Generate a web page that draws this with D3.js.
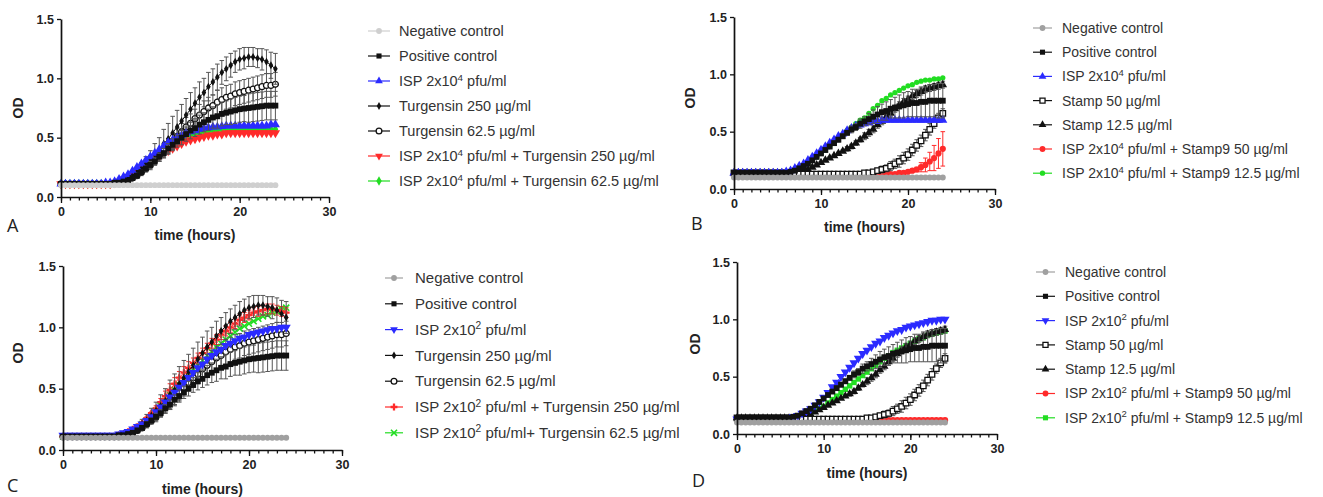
<!DOCTYPE html>
<html>
<head>
<meta charset="utf-8">
<script src="https://cdn.jsdelivr.net/npm/d3@7"></script>
<style>
  body { margin: 0; background: #fff; }
  svg { display: block; }
</style>
</head>
<body>
<svg id="fig" width="1323" height="497"></svg>
<script>
// ---- sampling times (hours) ----
const hours = [0,0.5,1,1.5,2,2.5,3,3.5,4,4.5,5,5.5,
  6,6.5,7,7.5,8,8.5,9,9.5,10,10.5,
  11,11.5,12,12.5,13,13.5,14,14.5,15,15.5,
  16,16.5,17,17.5,18,18.5,19,19.5,20,20.5,
  21,21.5,22,22.5,23,23.5,24];

const xMajor = [0, 10, 20, 30];
const xMinor = [0,1,2,3,4,5,6,7,8,9,10,11,12,13,14,15,16,17,18,19,20,21,22,23,24,25,26,27,28,29,30];
const yMajor = [0, 0.5, 1.0, 1.5];

// ---- Turgensin experiment (panels A and C) ----
const negT = [0.10,0.10,0.10,0.10,0.10,0.10,0.10,0.10,0.10,0.10,0.10,0.10,
  0.10,0.10,0.10,0.10,0.10,0.10,0.10,0.10,0.10,0.10,
  0.10,0.10,0.10,0.10,0.10,0.10,0.10,0.10,0.10,0.10,
  0.10,0.10,0.10,0.10,0.10,0.10,0.10,0.10,0.10,0.10,
  0.10,0.10,0.10,0.10,0.10,0.10,0.10];
const posT = [0.11,0.11,0.11,0.11,0.11,0.11,0.11,0.11,0.11,0.11,0.11,0.11,
  0.12,0.12,0.13,0.14,0.16,0.18,0.21,0.24,0.27,0.30,
  0.34,0.37,0.41,0.44,0.47,0.50,0.53,0.56,0.58,0.61,
  0.63,0.65,0.67,0.68,0.70,0.71,0.72,0.73,0.74,0.745,
  0.75,0.755,0.76,0.765,0.77,0.77,0.77];
const posTsd = [0,0,0,0,0,0,0,0,0,0,0,0,
  0,0,0.01,0.01,0.01,0.02,0.02,0.02,0.03,0.03,
  0.03,0.04,0.04,0.05,0.05,0.06,0.06,0.07,0.07,0.08,
  0.08,0.09,0.09,0.10,0.10,0.10,0.11,0.11,0.11,0.11,
  0.12,0.12,0.12,0.12,0.12,0.12,0.12];
const turg250 = [0.11,0.11,0.11,0.11,0.11,0.11,0.11,0.11,0.11,0.11,0.11,0.11,
  0.12,0.13,0.14,0.16,0.18,0.21,0.24,0.28,0.32,0.36,
  0.40,0.45,0.49,0.54,0.59,0.64,0.69,0.74,0.79,0.84,
  0.88,0.93,0.97,1.01,1.05,1.08,1.11,1.14,1.16,1.17,
  1.18,1.18,1.17,1.16,1.14,1.11,1.08];
const turg250sd = [0,0,0,0,0,0,0,0,0,0,0,0,
  0,0,0.01,0.02,0.03,0.04,0.05,0.06,0.07,0.09,
  0.10,0.12,0.13,0.14,0.14,0.14,0.14,0.14,0.13,0.13,
  0.12,0.12,0.11,0.11,0.10,0.10,0.10,0.09,0.09,0.09,
  0.08,0.08,0.08,0.09,0.10,0.11,0.13];
const turg62 = [0.11,0.11,0.11,0.11,0.11,0.11,0.11,0.11,0.11,0.11,0.11,0.11,
  0.11,0.12,0.13,0.14,0.16,0.18,0.21,0.24,0.27,0.31,
  0.35,0.39,0.43,0.47,0.51,0.55,0.59,0.62,0.66,0.69,
  0.72,0.75,0.77,0.80,0.82,0.84,0.85,0.87,0.88,0.89,
  0.90,0.91,0.92,0.93,0.94,0.94,0.95];
const turg62sd = [0,0,0,0,0,0,0,0,0,0,0,0,
  0,0,0.01,0.01,0.02,0.02,0.03,0.03,0.04,0.04,
  0.05,0.05,0.06,0.06,0.07,0.07,0.08,0.08,0.08,0.09,
  0.09,0.09,0.09,0.10,0.10,0.10,0.10,0.10,0.10,0.10,
  0.10,0.10,0.10,0.10,0.10,0.10,0.10];
const ispHighA = [0.11,0.11,0.11,0.11,0.11,0.11,0.11,0.11,0.11,0.11,0.12,0.12,
  0.13,0.15,0.17,0.19,0.22,0.25,0.28,0.31,0.34,0.37,
  0.40,0.43,0.46,0.48,0.50,0.52,0.54,0.55,0.56,0.57,
  0.58,0.585,0.59,0.59,0.595,0.60,0.60,0.60,0.60,0.60,
  0.60,0.60,0.60,0.60,0.60,0.61,0.61];
const ispT250A = [0.11,0.11,0.11,0.11,0.11,0.11,0.11,0.11,0.11,0.11,0.11,0.11,
  0.12,0.13,0.15,0.17,0.19,0.21,0.24,0.26,0.29,0.32,
  0.34,0.37,0.39,0.41,0.43,0.45,0.47,0.48,0.49,0.50,
  0.51,0.52,0.52,0.53,0.53,0.54,0.54,0.54,0.54,0.54,
  0.54,0.54,0.54,0.54,0.54,0.54,0.54];
const ispT62A = [0.11,0.11,0.11,0.11,0.11,0.11,0.11,0.11,0.11,0.11,0.11,0.11,
  0.12,0.14,0.16,0.18,0.20,0.23,0.26,0.29,0.32,0.35,
  0.38,0.40,0.43,0.45,0.47,0.49,0.50,0.52,0.53,0.54,
  0.55,0.55,0.56,0.56,0.57,0.57,0.57,0.57,0.57,0.57,
  0.57,0.57,0.57,0.57,0.57,0.57,0.57];
const ispLowC = [0.12,0.12,0.12,0.12,0.12,0.12,0.12,0.12,0.12,0.12,0.12,0.12,
  0.13,0.14,0.15,0.17,0.19,0.21,0.24,0.27,0.31,0.35,
  0.39,0.43,0.47,0.51,0.55,0.59,0.63,0.67,0.70,0.74,
  0.77,0.80,0.82,0.85,0.87,0.89,0.91,0.92,0.94,0.95,
  0.96,0.97,0.98,0.99,0.99,1.00,1.00];
const ispT250C = [0.11,0.11,0.11,0.11,0.11,0.11,0.11,0.11,0.11,0.11,0.11,0.11,
  0.12,0.13,0.15,0.17,0.19,0.22,0.26,0.30,0.34,0.39,
  0.44,0.49,0.54,0.59,0.63,0.67,0.71,0.75,0.79,0.83,
  0.87,0.90,0.94,0.97,1.00,1.03,1.06,1.08,1.10,1.12,
  1.13,1.14,1.15,1.15,1.14,1.13,1.12];
const ispT250Csd = [0,0,0,0,0,0,0,0,0,0,0,0,
  0,0,0.01,0.01,0.01,0.01,0.01,0.01,0.02,0.03,
  0.04,0.05,0.05,0.05,0.05,0.05,0.04,0.04,0.04,0.04,
  0.04,0.04,0.04,0.04,0.04,0.04,0.04,0.04,0.04,0.04,
  0.04,0.04,0.04,0.04,0.04,0.04,0.04];
const ispT62C = [0.11,0.11,0.11,0.11,0.11,0.11,0.11,0.11,0.11,0.11,0.11,0.11,
  0.12,0.13,0.14,0.16,0.18,0.21,0.24,0.28,0.32,0.36,
  0.40,0.45,0.49,0.53,0.57,0.61,0.65,0.69,0.73,0.77,
  0.80,0.84,0.87,0.90,0.93,0.96,0.99,1.01,1.03,1.05,
  1.07,1.09,1.10,1.12,1.13,1.15,1.16];

// ---- Stamp experiment (panels B and D) ----
const negS = [0.10,0.10,0.10,0.10,0.10,0.10,0.10,0.10,0.10,0.10,0.10,0.10,
  0.10,0.10,0.10,0.10,0.10,0.10,0.10,0.10,0.10,0.10,
  0.10,0.10,0.10,0.10,0.10,0.10,0.10,0.10,0.10,0.10,
  0.10,0.10,0.10,0.10,0.10,0.10,0.10,0.10,0.10,0.10,
  0.10,0.10,0.10,0.10,0.10,0.10,0.10];
const posS = [0.14,0.14,0.14,0.14,0.14,0.14,0.14,0.14,0.14,0.14,0.14,0.14,
  0.14,0.15,0.16,0.18,0.20,0.22,0.25,0.28,0.31,0.34,
  0.37,0.40,0.43,0.46,0.49,0.52,0.54,0.57,0.59,0.61,
  0.63,0.65,0.67,0.68,0.70,0.71,0.72,0.73,0.74,0.75,
  0.75,0.76,0.76,0.77,0.77,0.77,0.77];
const posSsd = [0,0,0,0,0,0,0,0,0,0,0,0,
  0,0,0.01,0.01,0.01,0.01,0.01,0.01,0.01,0.01,
  0.01,0.02,0.02,0.02,0.02,0.03,0.03,0.04,0.04,0.05,
  0.06,0.07,0.07,0.08,0.08,0.09,0.10,0.11,0.11,0.12,
  0.12,0.13,0.13,0.14,0.14,0.15,0.15];
const stamp50 = [0.14,0.14,0.14,0.14,0.14,0.14,0.14,0.14,0.14,0.14,0.14,0.14,
  0.14,0.13,0.13,0.13,0.13,0.13,0.13,0.13,0.13,0.13,
  0.13,0.13,0.13,0.13,0.13,0.13,0.13,0.13,0.14,0.14,
  0.15,0.16,0.17,0.18,0.20,0.22,0.24,0.27,0.30,0.34,
  0.38,0.42,0.47,0.52,0.57,0.62,0.66];
const stamp50sd = [0,0,0,0,0,0,0,0,0,0,0,0,
  0,0,0,0,0,0,0,0,0,0,
  0,0,0,0,0,0,0,0,0.01,0.01,
  0.02,0.02,0.03,0.03,0.04,0.04,0.05,0.05,0.05,0.05,
  0.05,0.05,0.05,0.05,0.04,0.04,0.04];
const stamp12 = [0.14,0.14,0.14,0.14,0.14,0.14,0.14,0.14,0.14,0.14,0.14,0.14,
  0.14,0.14,0.14,0.15,0.16,0.17,0.19,0.21,0.23,0.25,
  0.27,0.29,0.31,0.33,0.35,0.37,0.40,0.43,0.46,0.49,
  0.52,0.56,0.59,0.63,0.66,0.70,0.73,0.76,0.78,0.81,
  0.83,0.85,0.87,0.88,0.89,0.90,0.91];
const stamp12sd = [0,0,0,0,0,0,0,0,0,0,0,0,
  0,0,0.01,0.01,0.01,0.01,0.01,0.01,0.01,0.01,
  0.01,0.01,0.01,0.01,0.02,0.02,0.02,0.02,0.03,0.03,
  0.03,0.03,0.03,0.03,0.03,0.03,0.03,0.03,0.03,0.03,
  0.03,0.03,0.03,0.03,0.03,0.03,0.03];
const ispHighB = [0.14,0.14,0.14,0.14,0.14,0.14,0.14,0.14,0.14,0.14,0.14,0.14,
  0.15,0.16,0.18,0.20,0.22,0.25,0.28,0.31,0.34,0.37,
  0.40,0.43,0.46,0.48,0.51,0.53,0.55,0.56,0.57,0.58,
  0.59,0.59,0.60,0.60,0.60,0.60,0.60,0.60,0.60,0.60,
  0.60,0.60,0.60,0.60,0.60,0.60,0.60];
const ispS50B = [0.14,0.14,0.14,0.14,0.14,0.14,0.14,0.14,0.14,0.14,0.14,0.14,
  0.14,0.14,0.14,0.13,0.13,0.13,0.13,0.13,0.13,0.13,
  0.13,0.13,0.13,0.13,0.13,0.13,0.13,0.13,0.13,0.13,
  0.13,0.13,0.13,0.13,0.13,0.13,0.14,0.14,0.15,0.16,
  0.17,0.19,0.21,0.24,0.27,0.31,0.35];
const ispS50Bsd = [0,0,0,0,0,0,0,0,0,0,0,0,
  0,0,0,0,0,0,0,0,0,0,
  0,0,0,0,0,0,0,0,0,0,
  0,0,0,0,0,0,0,0,0.01,0.01,
  0.02,0.04,0.06,0.08,0.11,0.13,0.15];
const ispS12B = [0.14,0.14,0.14,0.14,0.14,0.14,0.14,0.14,0.14,0.14,0.14,0.14,
  0.14,0.15,0.16,0.18,0.20,0.22,0.25,0.28,0.31,0.34,
  0.37,0.40,0.44,0.47,0.51,0.54,0.57,0.60,0.62,0.66,
  0.70,0.73,0.77,0.79,0.82,0.84,0.86,0.88,0.90,0.91,
  0.93,0.94,0.95,0.95,0.96,0.96,0.97];
const ispLowD = [0.13,0.13,0.13,0.13,0.13,0.13,0.13,0.13,0.13,0.13,0.13,0.13,
  0.14,0.15,0.16,0.18,0.20,0.22,0.25,0.28,0.32,0.36,
  0.41,0.45,0.50,0.54,0.58,0.62,0.66,0.70,0.73,0.76,
  0.79,0.81,0.84,0.86,0.88,0.90,0.91,0.93,0.94,0.95,
  0.96,0.97,0.98,0.99,0.99,1.00,1.00];
const ispS50D = [0.13,0.13,0.13,0.13,0.13,0.13,0.13,0.13,0.13,0.13,0.13,0.13,
  0.13,0.13,0.13,0.13,0.13,0.13,0.13,0.13,0.13,0.13,
  0.13,0.13,0.12,0.12,0.12,0.12,0.12,0.12,0.12,0.12,
  0.12,0.12,0.12,0.12,0.12,0.12,0.12,0.12,0.12,0.12,
  0.12,0.12,0.12,0.12,0.12,0.12,0.12];
const ispS12D = [0.13,0.13,0.13,0.13,0.13,0.13,0.13,0.13,0.13,0.13,0.13,0.13,
  0.13,0.14,0.14,0.15,0.16,0.18,0.20,0.22,0.24,0.27,
  0.30,0.33,0.36,0.39,0.42,0.45,0.48,0.51,0.54,0.57,
  0.60,0.63,0.66,0.68,0.71,0.73,0.75,0.77,0.79,0.81,
  0.83,0.84,0.86,0.87,0.88,0.89,0.90];

// ---- legend texts ("^n" marks a superscript digit) ----
const labelsA = ["Negative control","Positive control","ISP 2x10^4 pfu/ml","Turgensin 250 µg/ml","Turgensin 62.5 µg/ml","ISP 2x10^4 pfu/ml + Turgensin 250 µg/ml","ISP 2x10^4 pfu/ml + Turgensin 62.5 µg/ml"];
const labelsB = ["Negative control","Positive control","ISP 2x10^4 pfu/ml","Stamp 50 µg/ml","Stamp 12.5 µg/ml","ISP 2x10^4 pfu/ml + Stamp9 50 µg/ml","ISP 2x10^4 pfu/ml + Stamp9 12.5 µg/ml"];
const labelsC = ["Negative control","Positive control","ISP 2x10^2 pfu/ml","Turgensin 250 µg/ml","Turgensin 62.5 µg/ml","ISP 2x10^2 pfu/ml + Turgensin 250 µg/ml","ISP 2x10^2 pfu/ml+ Turgensin 62.5 µg/ml"];
const labelsD = ["Negative control","Positive control","ISP 2x10^2 pfu/ml","Stamp 50 µg/ml","Stamp 12.5 µg/ml","ISP 2x10^2 pfu/ml + Stamp9 50 µg/ml","ISP 2x10^2 pfu/ml + Stamp9 12.5 µg/ml"];

const BLUE = "#2b2bff", RED = "#ff2a2a", GREEN = "#22dd22", BLACK = "#111";
const BAR_DARK = "#555";

const panels = [
  { letter: "A", xr: [61, 329], yr: [197, 19], od: [18, 108], titleY: 240, let: [7, 232],
    legend: { x0: 368, x1: 390, tx: 399, y: 31, dy: 25, fs: 14.5 },
    series: [
      { label: labelsA[0], v: negT, color: "#cfcfcf", shape: "circle", size: 28 },
      { label: labelsA[1], v: posT, sd: posTsd, bar: BAR_DARK, color: BLACK, shape: "square", size: 34 },
      { label: labelsA[2], v: ispHighA, color: BLUE, shape: "triangle", size: 36 },
      { label: labelsA[3], v: turg250, sd: turg250sd, bar: BAR_DARK, color: BLACK, shape: "diamond", size: 18 },
      { label: labelsA[4], v: turg62, sd: turg62sd, bar: BAR_DARK, color: BLACK, shape: "circle", open: true, size: 28 },
      { label: labelsA[5], v: ispT250A, color: RED, shape: "triangle", flip: true, size: 38 },
      { label: labelsA[6], v: ispT62A, color: GREEN, shape: "diamond", size: 28 }
    ] },
  { letter: "B", xr: [734, 995], yr: [189, 17], od: [690, 98], titleY: 232, let: [691, 230],
    legend: { x0: 1033, x1: 1052, tx: 1062, y: 28, dy: 24.2, fs: 14 },
    series: [
      { label: labelsB[0], v: negS, color: "#a0a0a0", shape: "circle", size: 28 },
      { label: labelsB[1], v: posS, sd: posSsd, bar: BAR_DARK, color: BLACK, shape: "square", size: 34 },
      { label: labelsB[2], v: ispHighB, color: BLUE, shape: "triangle", size: 36 },
      { label: labelsB[3], v: stamp50, sd: stamp50sd, bar: BAR_DARK, color: BLACK, shape: "square", open: true, size: 30 },
      { label: labelsB[4], v: stamp12, sd: stamp12sd, bar: BAR_DARK, color: BLACK, shape: "triangle", size: 32 },
      { label: labelsB[5], v: ispS50B, sd: ispS50Bsd, color: RED, shape: "circle", size: 30 },
      { label: labelsB[6], v: ispS12B, color: GREEN, shape: "circle", size: 22 }
    ] },
  { letter: "C", xr: [63, 342], yr: [450, 266], od: [18, 353], titleY: 494, let: [7, 492],
    legend: { x0: 385, x1: 403, tx: 415, y: 278, dy: 25.8, fs: 15, clip: 682 },
    series: [
      { label: labelsC[0], v: negT, color: "#a0a0a0", shape: "circle", size: 28 },
      { label: labelsC[1], v: posT, sd: posTsd, bar: BAR_DARK, color: BLACK, shape: "square", size: 34 },
      { label: labelsC[2], v: ispLowC, color: BLUE, shape: "triangle", flip: true, size: 36 },
      { label: labelsC[3], v: turg250, sd: turg250sd, bar: BAR_DARK, color: BLACK, shape: "diamond", size: 18 },
      { label: labelsC[4], v: turg62, sd: turg62sd, bar: BAR_DARK, color: BLACK, shape: "circle", open: true, size: 28 },
      { label: labelsC[5], v: ispT250C, sd: ispT250Csd, color: RED, shape: "plus", size: 26 },
      { label: labelsC[6], v: ispT62C, color: GREEN, shape: "times", size: 26 }
    ] },
  { letter: "D", xr: [737, 997], yr: [434, 262], od: [695, 344], titleY: 478, let: [692, 487],
    legend: { x0: 1036, x1: 1055, tx: 1065, y: 272, dy: 24.3, fs: 14 },
    series: [
      { label: labelsD[0], v: negS, color: "#a0a0a0", shape: "circle", size: 28 },
      { label: labelsD[1], v: posS, sd: posSsd, bar: BAR_DARK, color: BLACK, shape: "square", size: 34 },
      { label: labelsD[2], v: ispLowD, color: BLUE, shape: "triangle", flip: true, size: 36 },
      { label: labelsD[3], v: stamp50, sd: stamp50sd, bar: BAR_DARK, color: BLACK, shape: "square", open: true, size: 30 },
      { label: labelsD[4], v: stamp12, sd: stamp12sd, bar: BAR_DARK, color: BLACK, shape: "triangle", size: 30 },
      { label: labelsD[5], v: ispS50D, color: RED, shape: "circle", size: 32 },
      { label: labelsD[6], v: ispS12D, color: GREEN, shape: "square", size: 30 }
    ] }
];

const svg = d3.select("#fig");
const SANS = "'Liberation Sans', Arial, sans-serif";

const symbolTypes = {
  circle: d3.symbolCircle, square: d3.symbolSquare, triangle: d3.symbolTriangle,
  diamond: d3.symbolDiamond, plus: d3.symbolCross, times: d3.symbolTimes || d3.symbolCross
};

function drawMarker(g, s, cx, cy) {
  const p = g.append("path")
    .attr("d", d3.symbol().type(symbolTypes[s.shape]).size(s.size)())
    .attr("transform", `translate(${cx},${cy})` + (s.flip ? " rotate(180)" : ""));
  if (s.open) p.attr("fill", "#fff").attr("stroke", s.color).attr("stroke-width", 1.3);
  else if (s.shape === "times") p.attr("fill", "none").attr("stroke", s.color).attr("stroke-width", 1.6);
  else p.attr("fill", s.color);
}

function writeLabel(textSel, str, fs) {
  const parts = str.split(/\^(\d)/);
  parts.forEach((part, i) => {
    if (i % 2 === 1) {
      textSel.append("tspan").attr("dy", -fs * 0.38).attr("font-size", fs * 0.68).text(part);
    } else {
      const t = textSel.append("tspan").text(part);
      if (i > 0) t.attr("dy", fs * 0.38);
    }
  });
}

panels.forEach((P, pi) => {
  const x = d3.scaleLinear().domain([0, 30]).range(P.xr);
  const y = d3.scaleLinear().domain([0, 1.5]).range(P.yr);
  const g = svg.append("g");

  // data: last legend entry drawn first so the first sits on top
  const plot = g.append("g");
  P.series.slice().reverse().forEach(s => {
    const sg = plot.append("g");
    if (s.sd) {
      s.v.forEach((v, i) => {
        const e = s.sd[i];
        if (!e) return;
        const cx = x(hours[i]);
        const yt = y(v + e), yb = y(v - e);
        sg.append("path")
          .attr("d", `M${cx},${yt}V${yb}M${cx - 2.3},${yt}H${cx + 2.3}M${cx - 2.3},${yb}H${cx + 2.3}`)
          .attr("stroke", s.bar || s.color).attr("stroke-width", 1).attr("fill", "none");
      });
    }
    sg.append("path")
      .datum(s.v)
      .attr("d", d3.line().x((d, i) => x(hours[i])).y(d => y(d)))
      .attr("fill", "none").attr("stroke", s.color).attr("stroke-width", 1);
    s.v.forEach((v, i) => drawMarker(sg, s, x(hours[i]), y(v)));
  });

  // axes
  const xa = g.append("g").attr("transform", `translate(0,${P.yr[0]})`)
    .call(d3.axisBottom(x).tickValues(xMajor).tickSize(6).tickSizeOuter(0).tickPadding(4).tickFormat(d3.format("d")));
  const xm = g.append("g").attr("transform", `translate(0,${P.yr[0]})`)
    .call(d3.axisBottom(x).tickValues(xMinor).tickSize(3.5).tickSizeOuter(0).tickFormat(""));
  xm.select(".domain").remove();
  const ya = g.append("g").attr("transform", `translate(${P.xr[0]},0)`)
    .call(d3.axisLeft(y).tickValues(yMajor).tickSize(4).tickSizeOuter(0).tickPadding(3).tickFormat(d3.format(".1f")));
  [xa, xm, ya].forEach(a => {
    a.selectAll(".domain").attr("stroke", "#111").attr("stroke-width", 1.7);
    a.selectAll(".tick line").attr("stroke", "#111").attr("stroke-width", 1.3);
    a.selectAll(".tick text").attr("fill", "#222").attr("font-family", SANS)
      .attr("font-size", 12.5).attr("font-weight", "bold");
  });

  // axis titles
  g.append("text").attr("x", (P.xr[0] + P.xr[1]) / 2).attr("y", P.titleY)
    .attr("text-anchor", "middle").attr("font-family", SANS).attr("font-size", 14)
    .attr("font-weight", "bold").attr("fill", "#222").text("time (hours)");
  g.append("text").attr("transform", `translate(${P.od[0]},${P.od[1]}) rotate(-90)`)
    .attr("text-anchor", "middle").attr("dominant-baseline", "central")
    .attr("font-family", SANS).attr("font-size", 14).attr("font-weight", "bold")
    .attr("fill", "#222").text("OD");

  // panel letter
  g.append("text").attr("x", P.let[0]).attr("y", P.let[1])
    .attr("font-family", "'Open Sans', 'Noto Sans', sans-serif").attr("font-size", 18)
    .attr("fill", "#222").text(P.letter);

  // legend
  const L = P.legend;
  const lg = g.append("g");
  if (L.clip) {
    const id = "clip" + pi;
    svg.append("defs").append("clipPath").attr("id", id)
      .append("rect").attr("x", 0).attr("y", 0).attr("width", L.clip).attr("height", 497);
    lg.attr("clip-path", `url(#${id})`);
  }
  P.series.forEach((s, i) => {
    const cy = L.y + i * L.dy;
    lg.append("line").attr("x1", L.x0).attr("x2", L.x1).attr("y1", cy).attr("y2", cy)
      .attr("stroke", s.color).attr("stroke-width", 1.2);
    drawMarker(lg, Object.assign({}, s, { size: Math.min(s.size, 26) }), (L.x0 + L.x1) / 2, cy);
    const t = lg.append("text").attr("x", L.tx).attr("y", cy + L.fs * 0.35)
      .attr("font-family", SANS).attr("font-size", L.fs).attr("fill", "#333");
    writeLabel(t, s.label, L.fs);
  });
});
</script>
</body>
</html>
